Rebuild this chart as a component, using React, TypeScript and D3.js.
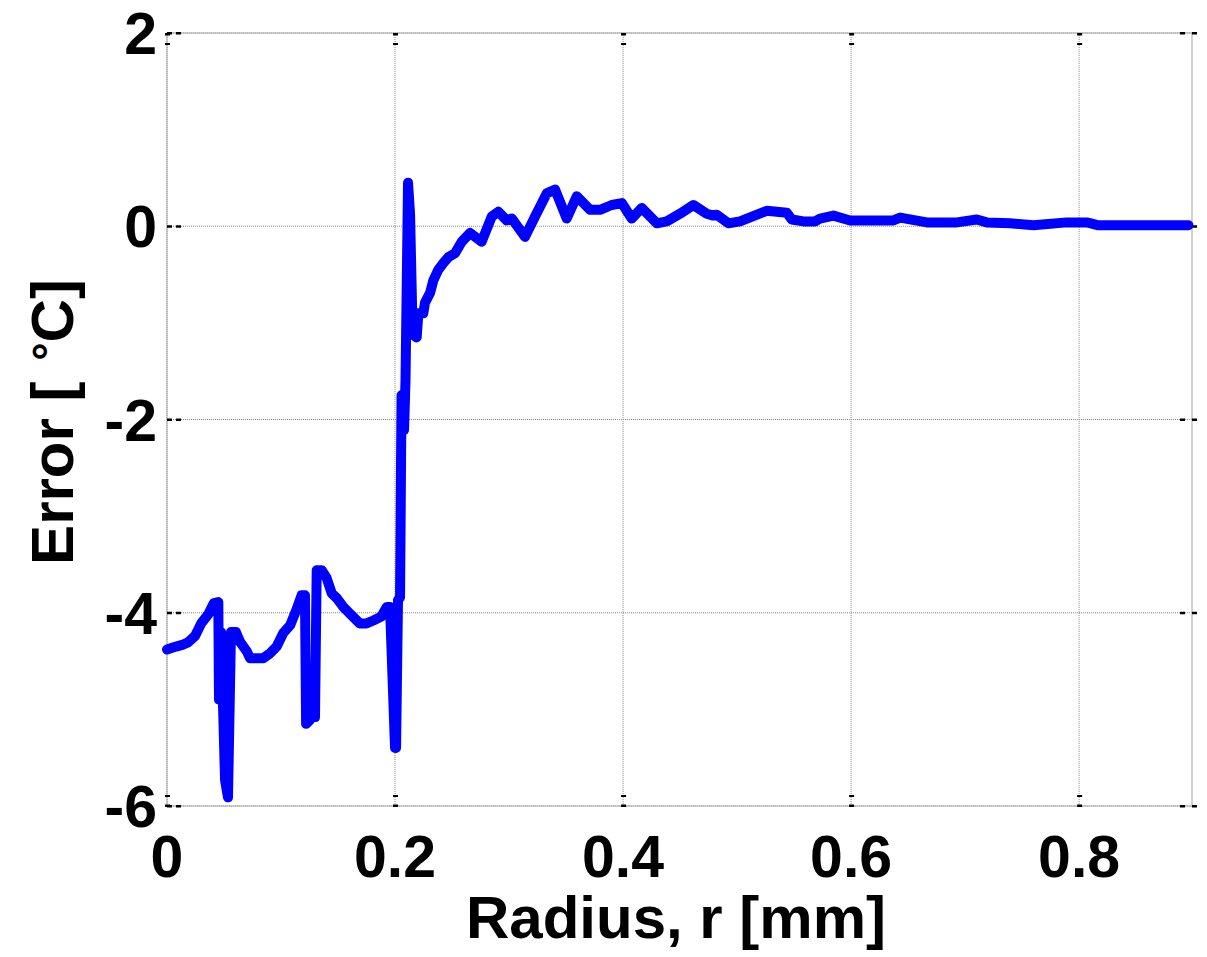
import React from "react";
import * as d3 from "d3";

const radius: number[] = [
  0.0, 0.0079, 0.014, 0.018, 0.0246, 0.030, 0.036, 0.041, 0.045, 0.0456,
  0.0474, 0.0509, 0.0535, 0.0561, 0.0605, 0.064, 0.070, 0.0728, 0.0845, 0.0904,
  0.0962, 0.102, 0.108, 0.1138, 0.118, 0.121, 0.122, 0.1254, 0.127, 0.1298,
  0.1313, 0.1357, 0.140, 0.1445, 0.149, 0.1547, 0.1605, 0.169, 0.175, 0.181,
  0.188, 0.1927, 0.1956, 0.2, 0.2009, 0.2026, 0.2044, 0.2057, 0.207, 0.2079,
  0.2092, 0.2114, 0.2132, 0.215, 0.2167, 0.219, 0.2205, 0.2248, 0.2263, 0.2307,
  0.2336, 0.238, 0.2424, 0.2468, 0.2526, 0.2585, 0.2658, 0.276, 0.2848, 0.2906,
  0.298, 0.3024, 0.314, 0.3228, 0.333, 0.3404, 0.3506, 0.3594, 0.371, 0.3798,
  0.390, 0.3989, 0.4076, 0.4164, 0.4296, 0.4383, 0.45, 0.4617, 0.4734, 0.4792,
  0.4822, 0.4924, 0.5026, 0.526, 0.5436, 0.548, 0.5582, 0.5684, 0.5728, 0.5845,
  0.5991, 0.6371, 0.643, 0.6664, 0.6927, 0.7103, 0.719, 0.7395, 0.76, 0.7892,
  0.8068, 0.817, 0.8959,
];

const errorC: number[] = [
  -4.38, -4.35, -4.33, -4.31, -4.24, -4.11, -4.02, -3.90, -3.89, -4.90,
  -4.2, -5.73, -5.91, -4.20, -4.20, -4.30, -4.40, -4.47, -4.47, -4.42,
  -4.35, -4.21, -4.13, -3.96, -3.82, -3.82, -5.15, -5.11, -4.77, -5.08,
  -3.56, -3.56, -3.64, -3.80, -3.85, -3.94, -4.01, -4.11, -4.11, -4.08,
  -4.04, -3.94, -3.94, -5.40, -5.40, -3.87, -3.84, -1.75, -1.78, -2.11,
  -1.59, 0.45, 0.12, -0.86, -1.13, -1.15, -0.90, -0.90, -0.79, -0.69,
  -0.56, -0.45, -0.38, -0.32, -0.28, -0.16, -0.07, -0.16, 0.10, 0.15,
  0.06, 0.08, -0.11, 0.10, 0.34, 0.38, 0.08, 0.31, 0.17, 0.17,
  0.22, 0.24, 0.08, 0.19, 0.03, 0.05, 0.13, 0.22, 0.13, 0.11,
  0.12, 0.03, 0.05, 0.16, 0.14, 0.07, 0.05, 0.05, 0.08, 0.11,
  0.06, 0.06, 0.09, 0.04, 0.04, 0.07, 0.04, 0.03, 0.01, 0.04,
  0.04, 0.01, 0.01,
];

const xTicks: number[] = [0, 0.2, 0.4, 0.6, 0.8];
const yTicks: number[] = [2, 0, -2, -4, -6];
const xTickLabels: string[] = ["0", "0.2", "0.4", "0.6", "0.8"];
const yTickLabels: string[] = ["2", "0", "-2", "-4", "-6"];

const W = 1207;
const H = 957;
const left = 167;
const right = 1192;
const top = 33;
const bottom = 806;

export default function App() {
  const x = d3.scaleLinear().domain([0, 0.899]).range([left, right]);
  const y = d3.scaleLinear().domain([-6, 2]).range([bottom, top]);
  const pts: [number, number][] = radius.map((r, i) => [r, errorC[i]]);
  const line = d3
    .line<[number, number]>()
    .x((d) => x(d[0]))
    .y((d) => y(d[1]));
  const font = "'Liberation Sans', Arial, sans-serif";
  const gridColor = "#8a8a8a";
  return (
    <div style={{ position: "absolute", left: 0, top: 0 }}>
      <svg width={W} height={H} style={{ display: "block", background: "#fff" }}>
        <rect x={0} y={0} width={W} height={H} fill="#fff" />
        {xTicks.map((t) => (
          <line key={"gx" + t} x1={x(t)} x2={x(t)} y1={top} y2={bottom}
            stroke={gridColor} strokeWidth={1} strokeDasharray="1,1" />
        ))}
        {yTicks.map((t) => (
          <line key={"gy" + t} x1={left} x2={right} y1={y(t)} y2={y(t)}
            stroke={gridColor} strokeWidth={1} strokeDasharray="1,1" />
        ))}
        <rect x={left} y={top} width={right - left} height={bottom - top}
          fill="none" stroke="#b4b4b4" strokeWidth={1.2} />
        {xTicks.map((t) => (
          <g key={"tx" + t} fill="#000">
            <rect x={x(t) - 2} y={top} width={5} height={2.5} />
            <rect x={x(t) - 2} y={top + 10} width={5} height={2} />
            <rect x={x(t) - 2} y={bottom - 11} width={5} height={2} />
            <rect x={x(t) - 2} y={bottom - 1.5} width={5} height={2.5} />
          </g>
        ))}
        {yTicks.map((t) => (
          <g key={"ty" + t} fill="#000">
            <rect x={left} y={y(t) - 1} width={5} height={2.5} />
            <rect x={left + 9} y={y(t) - 1} width={5} height={2.5} />
            <rect x={right - 12} y={y(t) - 1} width={5} height={2.5} />
            <rect x={right} y={y(t) - 1} width={5} height={2.5} />
          </g>
        ))}
        <path d={line(pts) || ""} fill="none" stroke="#0000ff" strokeWidth={10}
          strokeLinejoin="round" strokeLinecap="round" />
        {xTicks.map((t, i) => (
          <text key={"lx" + t} x={x(t)} y={877} textAnchor="middle"
            fontFamily={font} fontWeight="bold" fontSize={59} fill="#000">
            {xTickLabels[i]}
          </text>
        ))}
        {yTicks.map((t, i) => (
          <text key={"ly" + t} x={157} y={y(t) + 21} textAnchor="end"
            fontFamily={font} fontWeight="bold" fontSize={59} fill="#000">
            {yTickLabels[i]}
          </text>
        ))}
        <text x={676} y={938} textAnchor="middle" fontFamily={font}
          fontWeight="bold" fontSize={60} fill="#000">
          Radius, r [mm]
        </text>
        <text transform={`translate(73, 422) rotate(-90)`} textAnchor="middle"
          fontFamily={font} fontWeight="bold" fontSize={60} fill="#000">
          Error [ <tspan dx={4} dy={-8} fontSize={46}>°</tspan><tspan dy={8}>C]</tspan>
        </text>
      </svg>
    </div>
  );
}
